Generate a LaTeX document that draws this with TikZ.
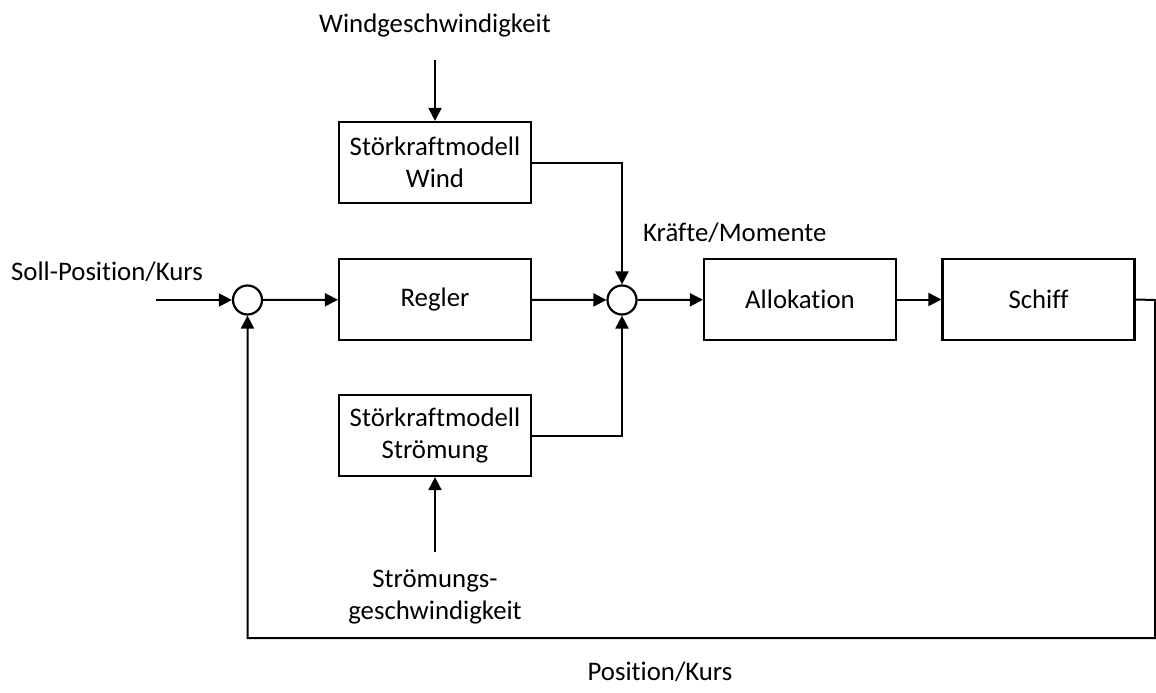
\documentclass[tikz,border=0pt]{standalone}
\usepackage{fontspec}
\setmainfont{Carlito}[Ligatures=NoCommon]
\usetikzlibrary{arrows.meta}
\begin{document}
\begin{tikzpicture}[x=1pt,y=-1pt,
  font=\fontsize{26.8}{32.3}\selectfont,
  block/.style={draw,line width=2.2pt,minimum width=192pt,minimum height=81pt,inner sep=0pt,align=center},
  junction/.style={draw,circle,line width=2.2pt,minimum size=29pt,inner sep=0pt},
  lbl/.style={inner sep=0pt,align=center},
  arr/.style={line width=2pt,line join=miter,-{Triangle[length=13pt,width=13pt]}}]
\useasboundingbox (0,0) rectangle (1156,693);

% main path blocks
\node[junction] (sum1) at (247.5,300) {};
\node[block] (regler) at (435,299.5) {Regler};
\node[junction] (sum2) at (622,300) {};
\node[block] (alloc) at (800,299.5) {Allokation};
\node[block] (schiff) at (1038.5,299.5) {Schiff};

% disturbance models
\node[block] (wind) at (435,162.5) {Störkraftmodell\\Wind};
\node[block] (stroem) at (435,435.5) {Störkraftmodell\\Strömung};

% labels
\node[lbl] (windtxt) at (435,25) {Windgeschwindigkeit};
\node[lbl] (stroemtxt) at (435,597) {Strömungs-\\geschwindigkeit};
\node[lbl] (solltxt) at (107,272) {Soll-Position/Kurs};
\node[lbl,anchor=west] (kraeftetxt) at (643,233) {Kräfte/Momente};
\node[lbl] (postxt) at (660,672) {Position/Kurs};

% free ends of the connectors
\coordinate (windin) at (435,60);
\coordinate (stroemin) at (435,552);
\coordinate (setin) at (156,300);
\coordinate (out) at (1155,300);
\coordinate (fbr) at (1155,638);

% signal flow
\draw[arr] (setin) -- (sum1);
\draw[arr] (sum1) -- (regler);
\draw[arr] (regler) -- (sum2);
\draw[arr] (sum2) -- (alloc);
\draw[arr] (alloc) -- (schiff);
\draw[arr] (windin) -- (wind);
\draw[arr] (stroemin) -- (stroem);
\draw[arr] (wind.east) -| (sum2.north);
\draw[arr] (stroem.east) -| (sum2.south);
\draw[arr] (schiff.east) -- (out) -- (fbr) -| (sum1.south);
\end{tikzpicture}
\end{document}
